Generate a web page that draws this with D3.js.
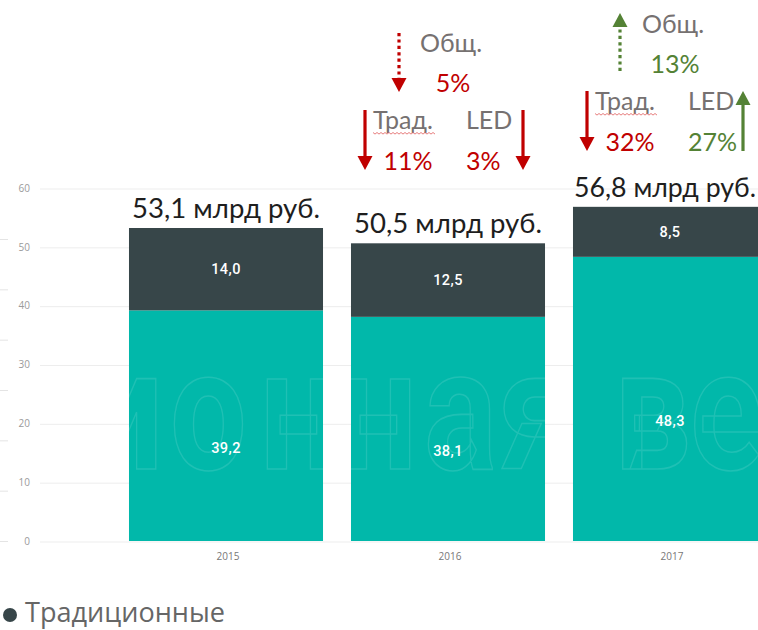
<!DOCTYPE html>
<html><head><meta charset="utf-8">
<script src="https://cdn.jsdelivr.net/npm/d3@7"></script>
<style>body{margin:0;background:#fff;} svg{display:block;}</style>
</head><body><svg id="c" width="758" height="630"></svg>
<script>
// ---- data ----
const years = ["2015", "2016", "2017"];
const traditional = [14.0, 12.5, 8.5];
const led = [39.2, 38.1, 48.3];
const totals = [53.1, 50.5, 56.8];
const yTicks = [0, 10, 20, 30, 40, 50, 60];
const totalChange = [null, -5, 13];
const tradChange = [null, -11, -32];
const ledChange = [null, -3, 27];
const legendLabels = ["Традиционные"];
const watermarkText = "ионная ве";

// ---- styles ----
const C = {led: "#01B8AA", trad: "#374649", red: "#C00000", green: "#548235", gray: "#767171", grid: "#ededed"};
const fmt = v => d3.format(".1f")(v).replace(".", ",");

const svg = d3.select("#c");
const W = 758, H = 630;

const x = d3.scaleBand().domain(years).range([115, 781]).paddingInner(0.126).paddingOuter(0.063);
const y = d3.scaleLinear().domain([0, 60]).range([541, 188]);
const yGhost = d3.scaleLinear().domain([0, 60]).range([541, 239]);

// ghost fragments at the left edge
svg.append("g").selectAll("line").data(yTicks).join("line")
  .attr("x1", 0).attr("x2", 8).attr("y1", d => yGhost(d) + 0.5).attr("y2", d => yGhost(d) + 0.5)
  .attr("stroke", "#e4e4e4").attr("stroke-width", 1);

// gridlines
const grid = svg.append("g").attr("transform", "translate(40,0)")
  .call(d3.axisRight(y).tickValues(yTicks).tickSize(W - 40).tickFormat(""));
grid.select(".domain").remove();
grid.selectAll("line").attr("stroke", C.grid).attr("transform", "translate(0,0.5)");

// y labels
const ya = svg.append("g").attr("transform", "translate(30,0)")
  .call(d3.axisLeft(y).tickValues(yTicks).tickSize(0).tickPadding(0));
ya.select(".domain").remove();
ya.selectAll("text").attr("font-family", "'Open Sans', sans-serif").attr("font-size", 10)
  .attr("fill", "#9a9a9a");

// x labels
const xa = svg.append("g").attr("transform", "translate(2,553)")
  .call(d3.axisBottom(x).tickSize(0).tickPadding(0));
xa.select(".domain").remove();
xa.selectAll("text").attr("font-family", "'Open Sans', sans-serif").attr("font-size", 10)
  .attr("fill", "#777").attr("dy", "0.71em");

// stacked bars
const rows = years.map((yr, i) => ({year: yr, led: led[i], trad: traditional[i]}));
const stack = d3.stack().keys(["led", "trad"])(rows);
const colorOf = {led: C.led, trad: C.trad};

svg.append("g").selectAll("g").data(stack).join("g")
  .attr("fill", s => colorOf[s.key])
  .selectAll("rect").data(s => s).join("rect")
  .attr("x", d => x(d.data.year)).attr("width", x.bandwidth())
  .attr("y", d => y(d[1])).attr("height", d => y(d[0]) - y(d[1]));

// watermark (outlined text) over bars
const sx = 0.8;
const wmX = [86, 170, 260, 340, 424, 499, 572, 614, 690].map(v => v / sx).join(" ");
svg.append("text").text(watermarkText)
  .attr("transform", `scale(${sx},1)`)
  .attr("x", wmX).attr("y", 469)
  .attr("font-family", "Roboto, sans-serif").attr("font-weight", 700).attr("font-size", 170)
  .attr("fill", "none").attr("stroke", "rgba(255,255,255,0.12)").attr("stroke-width", 1.6);

// value labels
const valG = svg.append("g").attr("font-family", "Roboto, sans-serif").attr("font-weight", 500)
  .attr("font-size", 14.5).attr("fill", "#fff").attr("text-anchor", "middle").attr("letter-spacing", 0.4);
stack.forEach(s => {
  valG.selectAll(null).data(s).join("text")
    .attr("x", d => x(d.data.year) + x.bandwidth() / 2)
    .attr("y", d => s.key === "trad" ? (y(d[0]) + y(d[1])) / 2 : (y(d[1]) + y(-7.5)) / 2)
    .attr("dy", "0.36em")
    .text(d => fmt(d.data[s.key]));
});

// total labels
function fitWidth(sel, w) {
  const len = sel.node().getComputedTextLength();
  const fs = parseFloat(sel.attr("font-size"));
  sel.attr("font-size", fs * w / len);
}
rows.forEach((r, i) => {
  const t = svg.append("text")
    .attr("x", x(r.year) + x.bandwidth() / 2 - (i === 2 ? 5 : 0))
    .attr("y", y(r.led + r.trad) - 10)
    .attr("text-anchor", "middle")
    .attr("font-family", "Lato, sans-serif").attr("font-size", 27).attr("fill", "#1e1e1e")
    .text(`${fmt(totals[i])} млрд руб.`);
  fitWidth(t, i === 2 ? 182 : 188);
});

// annotations
function arrow(g, ax, tail, tip, color, dotted) {
  const dir = tip > tail ? 1 : -1;
  const headH = 14, headW = 15;
  const base = tip - dir * headH;
  g.append("line").attr("x1", ax).attr("x2", ax).attr("y1", tail).attr("y2", base + dir * 1)
    .attr("stroke", color).attr("stroke-width", 3.2)
    .attr("stroke-dasharray", dotted ? "3.2,3.2" : null);
  g.append("path").attr("d", `M${ax - headW / 2},${base}L${ax + headW / 2},${base}L${ax},${tip}Z`)
    .attr("fill", color);
}
function wavy(g, x0, x1, yy) {
  let d = `M${x0},${yy}`;
  for (let xx = x0, k = 0; xx < x1; xx += 2, k++) d += `L${xx + 2},${yy + (k % 2 ? 0 : 1.6)}`;
  g.append("path").attr("d", d).attr("fill", "none").attr("stroke", "#e05a5a").attr("stroke-width", 0.8);
}
const annOffset = [0, 0, -19];
const pct = v => `${Math.abs(v)}%`;
years.forEach((yr, i) => {
  if (totalChange[i] == null) return;
  const c = x(yr) + x.bandwidth() / 2;
  const o = annOffset[i];
  const g = svg.append("g").attr("font-family", "Lato, sans-serif").attr("font-size", 25);
  const colT = totalChange[i] < 0 ? C.red : C.green;
  const colTr = tradChange[i] < 0 ? C.red : C.green;
  const colL = ledChange[i] < 0 ? C.red : C.green;
  // total
  if (totalChange[i] < 0) arrow(g, c - 49, 33 + o, 92 + o, colT, true);
  else arrow(g, c - 50, 70 + 1, 13, colT, true);
  g.append("text").attr("x", c - 28).attr("y", 52 + o).attr("fill", C.gray).text("Общ.");
  g.append("text").attr("x", c + 5).attr("y", 92 + o).attr("text-anchor", "middle").attr("fill", colT).text(pct(totalChange[i]));
  // traditional
  if (tradChange[i] < 0) arrow(g, c - 83, 110 + o, 170 + o, colTr, false);
  else arrow(g, c - 83, 170 + o, 110 + o, colTr, false);
  g.append("text").attr("x", c - 75).attr("y", 129 + o).attr("fill", C.gray).text("Трад.");
  wavy(g, c - 75, c - 14, 132.5 + o);
  g.append("text").attr("x", c - 40).attr("y", 170 + o).attr("text-anchor", "middle").attr("fill", colTr).text(pct(tradChange[i]));
  // led
  g.append("text").attr("x", c + 18).attr("y", 129 + o).attr("fill", C.gray).text("LED");
  g.append("text").attr("x", c + 18).attr("y", 170 + o).attr("fill", colL).text(pct(ledChange[i]));
  if (ledChange[i] < 0) arrow(g, c + 75, 110 + o, 170 + o, colL, false);
  else arrow(g, c + 73, 170 + o, 110 + o, colL, false);
});

// legend
const lg = svg.append("g");
lg.append("circle").attr("cx", 10).attr("cy", 615).attr("r", 7).attr("fill", C.trad);
const lt = lg.append("text").attr("x", 25).attr("y", 622).attr("font-family", "'Open Sans', sans-serif")
  .attr("font-size", 26).attr("fill", "#666").text(legendLabels[0]);
fitWidth(lt, 200);
</script></body></html>
